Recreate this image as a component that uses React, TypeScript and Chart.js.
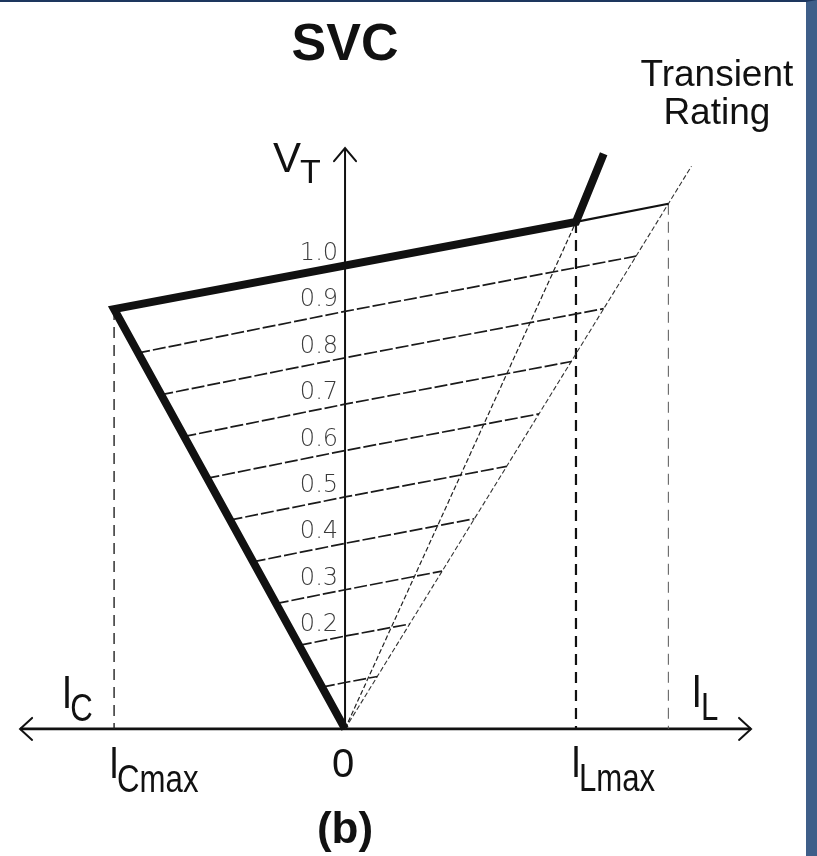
import React, { useEffect, useRef } from 'react';
import { Chart, registerables } from 'chart.js';

Chart.register(...registerables);

// SVC V-I characteristic, per-unit current (x) versus terminal voltage V_T (y)

// Constant-voltage load lines
const levelVoltages = [0.1, 0.2, 0.3, 0.4, 0.5, 0.6, 0.7, 0.8, 0.9];
const levelLeftCurrents = [-0.1, -0.2, -0.3, -0.4, -0.5, -0.6, -0.7, -0.8, -0.9];
const levelLeftVoltages = [0.09, 0.18, 0.27, 0.36, 0.45, 0.54, 0.63, 0.72, 0.81];
const levelRightCurrents = [0.14, 0.28, 0.42, 0.56, 0.7, 0.84, 0.98, 1.12, 1.26];
const levelRightVoltages = [0.113, 0.226, 0.34, 0.453, 0.566, 0.679, 0.792, 0.906, 1.019];

// Voltage tick labels along the V_T axis
const tickValues = [0.2, 0.3, 0.4, 0.5, 0.6, 0.7, 0.8, 0.9, 1.0];
const tickLabels = ['0.2', '0.3', '0.4', '0.5', '0.6', '0.7', '0.8', '0.9', '1.0'];

// Operating boundary: capacitive limit, control slope, inductive overload
const boundaryCurrents = [0, -1, 1, 1.12];
const boundaryVoltages = [0, 0.905, 1.093, 1.24];

// Inductive limit line through the origin
const inductiveCurrents = [0, 1];
const inductiveVoltages = [0, 1.093];

// Transient rating line through the origin
const transientCurrents = [0, 1.5];
const transientVoltages = [0, 1.213];

// Control slope extended to the transient rating
const ratingTopCurrents = [1, 1.4];
const ratingTopVoltages = [1.093, 1.132];

// Current limits (I_Cmax, I_Lmax, transient rating) and their drop lines
const limitCurrents = [-1, 1, 1.4];
const limitVoltages = [0.905, 1.093, 1.132];
const limitWidths = [1.4, 2.2, 1];
const limitColors = ['#222', '#111', '#555'];

// Axes extents
const axisLeft = -1.407;
const axisRight = 1.758;
const axisTop = 1.252;

const INK = '#111';
const SANS = '"Liberation Sans", Arial, Helvetica, sans-serif';

const pts = (xs: number[], ys: number[]) => xs.map((x, i) => ({ x, y: ys[i] }));

const line = (label: string, data: { x: number; y: number }[], extra: any = {}) => ({
  label,
  data,
  showLine: true,
  pointRadius: 0,
  pointHoverRadius: 0,
  borderColor: INK,
  borderWidth: 1.5,
  fill: false,
  tension: 0,
  clip: false,
  ...extra,
});

function text(
  ctx: CanvasRenderingContext2D,
  s: string,
  x: number,
  y: number,
  font: string,
  align: CanvasTextAlign = 'left',
  squeeze = 1
) {
  ctx.save();
  ctx.font = font;
  ctx.textAlign = align;
  ctx.textBaseline = 'alphabetic';
  ctx.translate(x, y);
  ctx.scale(squeeze, 1);
  ctx.fillText(s, 0, 0);
  ctx.restore();
}

// Main symbol followed by a lowered subscript
function subscripted(
  ctx: CanvasRenderingContext2D,
  main: string,
  sub: string,
  x: number,
  y: number,
  mainSize: number,
  subSize: number,
  drop: number,
  squeeze: number,
  gap: number
) {
  ctx.save();
  ctx.font = `${mainSize}px ${SANS}`;
  const w = ctx.measureText(main).width * squeeze;
  ctx.restore();
  text(ctx, main, x, y, `${mainSize}px ${SANS}`, 'left', squeeze);
  text(ctx, sub, x + w + gap, y + drop, `${subSize}px ${SANS}`, 'left', squeeze);
}

const annotations = {
  id: 'svcAnnotations',
  afterDatasetsDraw(chart: any) {
    const { ctx, scales, chartArea } = chart;
    const X = (v: number) => scales.x.getPixelForValue(v);
    const Y = (v: number) => scales.y.getPixelForValue(v);
    const x0 = X(0);
    const y0 = Y(0);

    ctx.save();
    ctx.fillStyle = INK;
    ctx.strokeStyle = INK;
    ctx.lineWidth = 2;
    ctx.lineCap = 'round';
    ctx.lineJoin = 'miter';

    // Arrowheads
    const chevron = (a: number[], b: number[], c: number[]) => {
      ctx.beginPath();
      ctx.moveTo(a[0], a[1]);
      ctx.lineTo(b[0], b[1]);
      ctx.lineTo(c[0], c[1]);
      ctx.stroke();
    };
    const lx = X(axisLeft);
    const rx = X(axisRight);
    const ty = Y(axisTop);
    chevron([lx + 12, y0 - 11], [lx, y0], [lx + 12, y0 + 11]);
    chevron([rx - 12, y0 - 11], [rx, y0], [rx - 12, y0 + 11]);
    chevron([x0 - 11, ty + 13], [x0, ty], [x0 + 11, ty + 13]);

    // Voltage ticks
    ctx.fillStyle = '#3a3a3a';
    tickValues.forEach((v, i) => {
      text(ctx, tickLabels[i], x0 - 7, Y(v) - 5, `300 24px "DejaVu Sans", sans-serif`, 'right');
    });

    ctx.fillStyle = INK;
    // Title and caption
    text(ctx, 'SVC', x0, chartArea.top + 58, `bold 52px ${SANS}`, 'center');
    text(ctx, '(b)', x0, y0 + 114, `bold 44px ${SANS}`, 'center');

    // Transient rating note
    text(ctx, 'Transient', X(1.61), chartArea.top + 84, `37px ${SANS}`, 'center');
    text(ctx, 'Rating', X(1.61), chartArea.top + 122, `37px ${SANS}`, 'center');

    // Axis names
    subscripted(ctx, 'V', 'T', x0 - 72, Y(1.2), 42, 34, 11, 1, -1);
    subscripted(ctx, 'I', 'C', X(-1.227), y0 - 21, 46, 38, 13, 0.82, -2);
    subscripted(ctx, 'I', 'L', X(1.5), y0 - 22, 46, 38, 13, 0.82, -1);

    // Current axis marks
    text(ctx, '0', x0 - 2, y0 + 48, `40px ${SANS}`, 'center');
    subscripted(ctx, 'I', 'Cmax', X(limitCurrents[0]) - 5, y0 + 49, 44, 38, 14, 0.82, -2);
    subscripted(ctx, 'I', 'Lmax', X(limitCurrents[1]) - 5, y0 + 48, 44, 38, 14, 0.82, -2);

    ctx.restore();
  },
};

export default function App() {
  const ref = useRef<HTMLCanvasElement | null>(null);

  useEffect(() => {
    if (!ref.current) return;

    const datasets: any[] = [];

    // Thick operating boundary on top
    datasets.push(
      line('boundary', pts(boundaryCurrents, boundaryVoltages), {
        borderWidth: 8,
        borderJoinStyle: 'miter',
        borderCapStyle: 'butt',
      })
    );

    // Extension of the control slope up to the transient rating
    datasets.push(line('rating top', pts(ratingTopCurrents, ratingTopVoltages), { borderWidth: 2.2 }));

    // Load lines
    levelVoltages.forEach((v, i) => {
      datasets.push(
        line(
          `level ${v}`,
          [
            { x: levelLeftCurrents[i], y: levelLeftVoltages[i] },
            { x: 0, y: v },
            { x: levelRightCurrents[i], y: levelRightVoltages[i] },
          ],
          { borderWidth: 1.7, borderDash: [13, 3], borderColor: '#1a1a1a' }
        )
      );
    });

    datasets.push(
      line('inductive', pts(inductiveCurrents, inductiveVoltages), {
        borderWidth: 1.2,
        borderDash: [5, 2.5],
        borderColor: '#222',
      })
    );
    datasets.push(
      line('transient', pts(transientCurrents, transientVoltages), {
        borderWidth: 1.1,
        borderDash: [5, 2.5],
        borderColor: '#333',
      })
    );

    // Drop lines from the current limits to the axis
    limitCurrents.forEach((c, i) => {
      datasets.push(
        line(`limit ${c}`, [{ x: c, y: limitVoltages[i] }, { x: c, y: 0 }], {
          borderWidth: limitWidths[i],
          borderDash: [11, 7],
          borderColor: limitColors[i],
        })
      );
    });

    // Axes
    datasets.push(line('V axis', [{ x: 0, y: 0 }, { x: 0, y: axisTop }], { borderWidth: 2 }));
    datasets.push(line('I axis', [{ x: axisLeft, y: 0 }, { x: axisRight, y: 0 }], { borderWidth: 2.6 }));

    const chart = new Chart(ref.current, {
      type: 'scatter',
      data: { datasets },
      options: {
        animation: false,
        responsive: false,
        devicePixelRatio: 1,
        events: [],
        layout: { padding: 0 },
        plugins: {
          legend: { display: false },
          tooltip: { enabled: false },
          title: { display: false },
        },
        scales: {
          x: { type: 'linear', min: -1.494, max: 1.996, display: false },
          y: { type: 'linear', min: -0.274, max: 1.567, display: false },
        },
      },
      plugins: [annotations],
    });

    return () => chart.destroy();
  }, []);

  return (
    <div
      style={{
        position: 'absolute',
        left: 0,
        top: 0,
        width: 817,
        height: 856,
        boxSizing: 'border-box',
        borderTop: '2px solid #1d365e',
        borderRight: '11px solid #3e5e89',
        background: '#ffffff',
      }}
    >
      <canvas ref={ref} width={806} height={854} style={{ display: 'block' }} />
    </div>
  );
}
